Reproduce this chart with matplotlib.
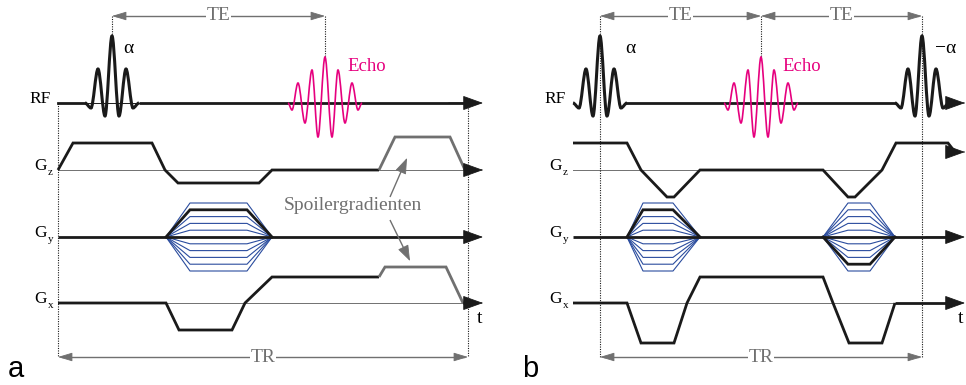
import matplotlib.pyplot as plt
from matplotlib.path import Path
from matplotlib.patches import PathPatch

# row baselines (pixels from the top)
y_rf, y_gz, y_gy, y_gx = 103, 170, 237, 303

# RF pulse lobes: offset from centre, height above baseline
rf_dx = [-27, -21, -14, -7, 0, 7, 14, 21, 27]
rf_amp = [0, -5, 34, -13, 67, -13, 34, -5, 0]
# echo lobes
echo_dx = [-37, -33, -27, -20, -13, -7, 0, 7, 13, 20, 27, 33, 37]
echo_amp = [0, -7, 20, -20, 33, -34, 46, -34, 33, -20, 20, -7, 0]

# phase encoding table
pe_steps = [-5, -4, -3, -2, -1, 0, 1, 2, 3, 4, 5]
pe_step_px = 6.8

# --- panel a: gradient echo with spoiler ---
a_start, a_end = 58, 483
a_tr = [58, 468]
a_rf = [112]
a_echo = 325
gz_a_t = [58, 73, 152, 165, 178, 259, 272, 379]
gz_a = [0, 27, 27, 0, -13, -13, 0, 0]
gz_a_spoil_t = [379, 395, 450, 465]
gz_a_spoil = [0, 33, 33, 0]
gx_a_t = [58, 166, 179, 232, 245, 272, 379]
gx_a = [0, 0, -27, -27, 0, 26, 26]
gx_a_spoil_t = [379, 385, 446, 463]
gx_a_spoil = [26, 36, 36, 0]
gy_a_blocks = [(166, 190, 247, 272)]
gy_a_marked = [4]

# --- panel b: balanced sequence ---
b_start, b_end = 573, 966
b_tr = [600, 922]
b_rf = [600, 922]
b_echo = 761
gz_b_t = [573, 627, 641, 667, 674, 700, 823, 848, 855, 882, 896, 948, 955]
gz_b = [27, 27, 0, -27, -27, 0, 0, -27, -27, 0, 27, 27, 18]
gx_b_t = [573, 627, 641, 674, 687, 700, 823, 833, 849, 882, 895]
gx_b = [0, 0, -40, -40, 0, 26, 26, 0, -40, -40, 0]
gy_b_blocks = [(627, 643, 673, 700), (823, 848, 870, 895)]
gy_b_marked = [4, -4]

BLACK = '#1a1a1a'
GRAY = '#707070'
BLUE = '#2a4c9e'
MAGENTA = '#e6007e'
SERIF = 'Liberation Serif'

fig = plt.figure(figsize=(9.66, 3.85), dpi=100)
ax = fig.add_axes([0, 0, 1, 1])
ax.set_xlim(0, 966)
ax.set_ylim(385, 0)
ax.axis('off')


def wave(xc, y0, dx, amp, **kw):
    # smooth lobes: cubic segments with flat tangents at each extremum
    verts = [(xc + dx[0], y0 - amp[0])]
    codes = [Path.MOVETO]
    for i in range(len(dx) - 1):
        x0, x1 = xc + dx[i], xc + dx[i + 1]
        v0, v1 = y0 - amp[i], y0 - amp[i + 1]
        d = x1 - x0
        verts += [(x0 + d / 3, v0), (x1 - d / 3, v1), (x1, v1)]
        codes += [Path.CURVE4] * 3
    ax.add_patch(PathPatch(Path(verts, codes), fill=False, **kw))


def grad(t, amp, y0, color=BLACK, lw=2.0):
    ax.plot(t, [y0 - a for a in amp], color=color, lw=lw,
            solid_joinstyle='miter', solid_capstyle='butt', zorder=3)


def head(xa, ya, xb, yb, color=BLACK, size=13, width=0.36):
    # filled arrow head pointing from (xa, ya) towards (xb, yb)
    ax.annotate('', xy=(xb, yb), xytext=(xa, ya),
                arrowprops=dict(arrowstyle=f'-|>,head_length=1,head_width={width}',
                                color=color, lw=0.6, mutation_scale=size,
                                shrinkA=0, shrinkB=0), zorder=4)


def arrow(x0, x1, y, y1=None, color=BLACK, lw=2.0, size=13):
    y1 = y if y1 is None else y1
    f = 1 - (size * 0.5) / max(((x1 - x0) ** 2 + (y1 - y) ** 2) ** 0.5, 1)
    ax.plot([x0, x0 + (x1 - x0) * f], [y, y + (y1 - y) * f], color=color, lw=lw,
            solid_capstyle='butt', zorder=3)
    head(x0 + (x1 - x0) * 0.9, y + (y1 - y) * 0.9, x1, y1, color=color, size=size)


def dotted(x, ya, yb):
    ax.plot([x, x], [ya, yb], color=BLACK, lw=0.8, ls=(0, (1, 1.2)), zorder=1)


def span(x0, x1, y, label):
    ax.plot([x0 + 4, x1 - 4], [y, y], color=GRAY, lw=1.0, zorder=2)
    head(x0 + 6, y, x0, y, color=GRAY, size=9, width=0.3)
    head(x1 - 6, y, x1, y, color=GRAY, size=9, width=0.3)
    ax.text((x0 + x1) / 2, y, label, family=SERIF, fontsize=14, color=GRAY,
            ha='center', va='center', zorder=5,
            bbox=dict(facecolor='white', edgecolor='none', pad=0.5))


def phase_table(block, marked):
    x0, x1, x2, x3 = block
    for s in pe_steps:
        lv = y_gy - s * pe_step_px
        ax.plot([x0, x1, x2, x3], [y_gy, lv, lv, y_gy], color=BLUE, lw=0.8, zorder=2)
    lv = y_gy - marked * pe_step_px
    ax.plot([x0, x1, x2, x3], [y_gy, lv, lv, y_gy], color=BLACK, lw=2.0,
            solid_joinstyle='miter', zorder=3)


def row_labels(x):
    ax.text(x + 4, y_rf, 'RF', family=SERIF, fontsize=12.5, ha='right', va='baseline')
    for y, sub in [(y_gz, 'z'), (y_gy, 'y'), (y_gx, 'x')]:
        ax.text(x, y, 'G', family=SERIF, fontsize=12.5, ha='right', va='baseline')
        ax.text(x + 1, y + 5, sub, family=SERIF, fontsize=8, ha='left', va='baseline')


# ---------- panel a ----------
row_labels(a_start - 11)
rf_w0, rf_w1 = a_rf[0] + rf_dx[0], a_rf[0] + rf_dx[-1]
ax.plot([a_start, rf_w0], [y_rf, y_rf], color=BLACK, lw=2.0)
ax.plot([rf_w0, rf_w1], [y_rf, y_rf], color=BLACK, lw=0.7)
arrow(rf_w1, a_end, y_rf)
wave(a_rf[0], y_rf, rf_dx, rf_amp, color=BLACK, lw=2.2, zorder=3)
wave(a_echo, y_rf, echo_dx, echo_amp, color=MAGENTA, lw=1.2, zorder=4)

ax.plot([a_start, gz_a_spoil_t[-1]], [y_gz, y_gz], color=GRAY, lw=0.7, zorder=1)
grad(gz_a_t, gz_a, y_gz)
grad(gz_a_spoil_t, gz_a_spoil, y_gz, color=GRAY)
arrow(gz_a_spoil_t[-1], a_end, y_gz)

arrow(a_start, a_end, y_gy)
for blk, m in zip(gy_a_blocks, gy_a_marked):
    phase_table(blk, m)

ax.plot([a_start, gx_a_spoil_t[-1]], [y_gx, y_gx], color=GRAY, lw=0.7, zorder=1)
grad(gx_a_t, gx_a, y_gx)
grad(gx_a_spoil_t, gx_a_spoil, y_gx, color=GRAY)
arrow(gx_a_spoil_t[-1], a_end, y_gx)
ax.text(a_end - 3, y_gx + 20, 't', family=SERIF, fontsize=14, ha='center', va='baseline')

dotted(a_tr[0], y_rf, 357)
dotted(a_tr[1], y_rf, 357)
dotted(a_rf[0], 16, y_rf - rf_amp[4])
dotted(a_echo, 16, y_rf - echo_amp[6])
span(a_rf[0], a_echo, 16, 'TE')
span(a_tr[0], a_tr[1], 357, 'TR')

ax.text(a_rf[0] + 11, 53, 'α', family=SERIF, fontsize=14, ha='left', va='baseline')
ax.text(a_echo + 22, 71, 'Echo', family=SERIF, fontsize=13.5, color=MAGENTA,
        ha='left', va='baseline')

ax.text(353, 210, 'Spoilergradienten', family=SERIF, fontsize=14, color=GRAY,
        ha='center', va='baseline')
arrow(390, 407, 197, 158, color=GRAY, lw=1.0, size=10)
arrow(390, 410, 220, 261, color=GRAY, lw=1.0, size=10)

ax.text(8, 377, 'a', family='Liberation Sans', fontsize=21, ha='left', va='baseline')

# ---------- panel b ----------
row_labels(b_start - 11)
p0, p1 = b_rf
ax.plot([p0 + rf_dx[-1], p1 + rf_dx[0]], [y_rf, y_rf], color=BLACK, lw=2.0)
arrow(p1 + rf_dx[-1], b_end - 1, y_rf)
for c in b_rf:
    wave(c, y_rf, rf_dx, rf_amp, color=BLACK, lw=2.2, zorder=3)
wave(b_echo, y_rf, echo_dx, echo_amp, color=MAGENTA, lw=1.2, zorder=4)

ax.plot([b_start, gz_b_t[9]], [y_gz, y_gz], color=GRAY, lw=0.7, zorder=1)
grad(gz_b_t, gz_b, y_gz)
arrow(gz_b_t[-1], b_end - 1, y_gz - gz_b[-1])

arrow(b_start, b_end - 1, y_gy)
for blk, m in zip(gy_b_blocks, gy_b_marked):
    phase_table(blk, m)

ax.plot([b_start, b_end - 10], [y_gx, y_gx], color=GRAY, lw=0.7, zorder=1)
grad(gx_b_t, gx_b, y_gx)
arrow(gx_b_t[-1], b_end - 1, y_gx)
ax.text(b_end - 5, y_gx + 20, 't', family=SERIF, fontsize=14, ha='center', va='baseline')

for x in b_tr:
    dotted(x, 16, 357)
dotted(b_echo, 16, y_rf - echo_amp[6])
span(b_rf[0], b_echo, 16, 'TE')
span(b_echo, b_rf[1], 16, 'TE')
span(b_tr[0], b_tr[1], 357, 'TR')

ax.text(b_rf[0] + 25, 53, 'α', family=SERIF, fontsize=14, ha='left', va='baseline')
ax.text(b_rf[1] + 13, 53, '−α', family=SERIF, fontsize=14, ha='left', va='baseline')
ax.text(b_echo + 21, 71, 'Echo', family=SERIF, fontsize=13.5, color=MAGENTA,
        ha='left', va='baseline')

ax.text(522, 377, 'b', family='Liberation Sans', fontsize=21, ha='left', va='baseline')

fig.savefig('out.png', dpi=100)
